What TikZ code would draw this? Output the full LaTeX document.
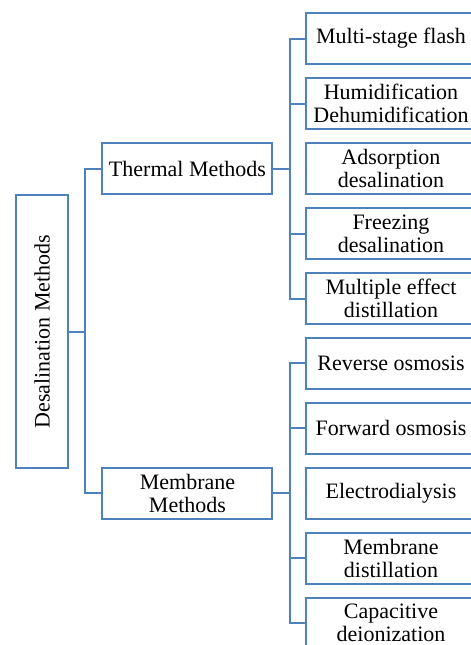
\documentclass[tikz,border=0pt]{standalone}
\usepackage{fontspec}
\setmainfont{Liberation Serif}
\definecolor{boxblue}{RGB}{79,129,189}
\tikzset{
  box/.style={draw=boxblue, line width=1pt, align=center, inner sep=0pt,
    minimum width=85pt, minimum height=25.5pt,
    font=\fontsize{11}{11.5}\selectfont},
  link/.style={draw=boxblue, line width=1pt}
}
\begin{document}
\begin{tikzpicture}[x=0.5pt, y=-0.5pt]
\useasboundingbox (0,0) rectangle (471,645);
\clip (0,0) rectangle (471,645);

% Root
\node[box, rotate=90, minimum width=136.5pt, minimum height=26pt] (root) at (42,331.5) {Desalination Methods};

% Main branches
\node[box] (thermal) at (187.5,168.5) {Thermal Methods};
\node[box] (membrane) at (187.5,493) {Membrane\\Methods};

% Thermal methods
\node[box] (msf) at (391,38.5) {Multi-stage flash};
\node[box] (hdh) at (391,103.5) {Humidification\\Dehumidification};
\node[box] (ads) at (391,168.5) {Adsorption\\desalination};
\node[box] (frz) at (391,233.5) {Freezing\\desalination};
\node[box] (med) at (391,298.5) {Multiple effect\\distillation};

% Membrane methods
\node[box] (ro) at (391,363) {Reverse osmosis};
\node[box] (fo) at (391,428) {Forward osmosis};
\node[box] (ed) at (391,493) {Electrodialysis};
\node[box] (md) at (391,558) {Membrane\\distillation};
\node[box] (cdi) at (391,623) {Capacitive\\deionization};

% Connectors from root
\coordinate (rj) at (85,331.5);
\draw[link] (root.south) -- (rj);
\draw[link] (thermal.west) -| (rj) |- (membrane.west);

% Connectors from thermal
\coordinate (tj) at (290,168.5);
\draw[link] (thermal.east) -- (tj);
\draw[link] (msf.west) -| (tj) |- (med.west);
\draw[link] (hdh.west) -- (tj |- hdh.west);
\draw[link] (frz.west) -- (tj |- frz.west);

% Connectors from membrane
\coordinate (mj) at (290,493);
\draw[link] (membrane.east) -- (mj);
\draw[link] (ro.west) -| (mj) |- (cdi.west);
\draw[link] (fo.west) -- (mj |- fo.west);
\draw[link] (md.west) -- (mj |- md.west);
\end{tikzpicture}
\end{document}
